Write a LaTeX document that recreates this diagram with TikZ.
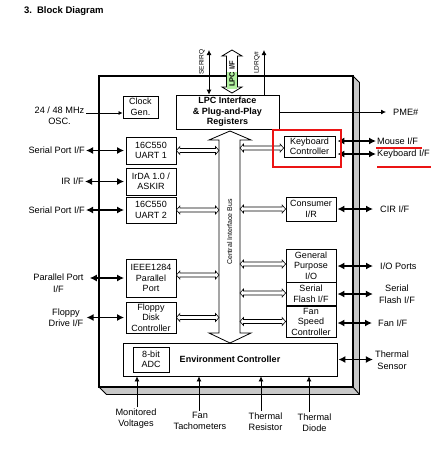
\documentclass[tikz,border=0pt]{standalone}
\usepackage{fontspec}
\setmainfont{Liberation Sans}
\usetikzlibrary{arrows.meta,calc}
\definecolor{shadowgray}{RGB}{200,200,200}
\definecolor{lpcgreen}{RGB}{178,240,160}
\definecolor{markred}{RGB}{235,20,20}
\newcommand\hollowh[2]{\draw[hol] let \p1=#1,\p2=#2 in
  (\x1,\y1) -- (\x1+3.5pt,\y1+4pt) -- (\x1+3.5pt,\y1+2pt) -- (\x2-3.5pt,\y1+2pt) -- (\x2-3.5pt,\y1+4pt) -- (\x2,\y1)
  -- (\x2-3.5pt,\y1-4pt) -- (\x2-3.5pt,\y1-2pt) -- (\x1+3.5pt,\y1-2pt) -- (\x1+3.5pt,\y1-4pt) -- cycle;}
\begin{document}
\begin{tikzpicture}[x=1pt,y=-1pt,
  box/.style={draw,fill=white,line width=0.8pt,align=center,inner sep=0pt,font=\fontsize{9}{10.5}\selectfont},
  lbl/.style={align=center,inner sep=1pt,font=\fontsize{9.2}{11.5}\selectfont},
  small/.style={rotate=90,inner sep=0pt,font=\fontsize{6.5}{7}\selectfont},
  thk/.style={line width=1.7pt,{Latex[length=7pt,width=7pt]}-{Latex[length=7pt,width=7pt]}},
  thn/.style={line width=0.8pt,-{Latex[length=5pt,width=5pt]}},
  thnd/.style={line width=0.8pt,{Latex[length=5pt,width=5pt]}-{Latex[length=5pt,width=5pt]}},
  hol/.style={draw,fill=white,line width=0.6pt},
  redmark/.style={draw=markred,line width=1.2pt},
]
\useasboundingbox (0,0) rectangle (436,450);

% title
\node[anchor=west,inner sep=0pt,font=\bfseries\fontsize{9.5}{11}\selectfont] (title) at (24,11) {3.\hspace{5pt}Block Diagram};

% chip outline with 3D shadow
\filldraw[fill=shadowgray,draw=black,line width=0.9pt] (353,76) -- (359.5,82.5) -- (359.5,394.5) -- (106.5,394.5) -- (99,387) -- (353,387) -- cycle;
\draw[line width=0.9pt] (353,387) -- (359.5,394.5);
\draw[line width=1.6pt,fill=white] (99,76) rectangle (353,387);

% central interface bus
\coordinate (busL) at (219,0);
\coordinate (busR) at (240,0);
\draw[hol,line width=0.8pt] (230,131) -- (251,140) -- (240,140) -- (240,333) -- (251,333) -- (230,343)
  -- (209,333) -- (219,333) -- (219,140) -- (209,140) -- cycle;
\node[rotate=90,inner sep=0pt,font=\fontsize{7}{8}\selectfont] (busl) at (229.5,232) {Central Interface Bus};

% blocks
\node[box,minimum width=35pt,minimum height=22pt] (clk) at (140.5,107) {Clock\\Gen.};
\node[box,minimum width=103pt,minimum height=34pt,font=\bfseries\fontsize{9}{10.5}\selectfont] (lpc) at (227.5,112) {LPC Interface\\\& Plug-and-Play\\Registers};
\node[box,minimum width=50pt,minimum height=27pt] (uart1) at (151,150.5) {16C550\\UART 1};
\node[box,minimum width=50pt,minimum height=27pt] (irda) at (151,181.5) {IrDA 1.0 /\\ASKIR};
\node[box,minimum width=50pt,minimum height=26pt] (uart2) at (151,210) {16C550\\UART 2};
\node[box,minimum width=50pt,minimum height=38pt] (par) at (151,278) {IEEE1284\\Parallel\\Port};
\node[box,minimum width=50pt,minimum height=31pt] (fdc) at (151,317.5) {Floppy\\Disk\\Controller};
\node[box,minimum width=51pt,minimum height=21pt] (kbc) at (309.5,146.5) {Keyboard\\Controller};
\node[box,minimum width=50pt,minimum height=24pt] (cir) at (311,209) {Consumer\\I/R};
\node[box,minimum width=50pt,minimum height=33pt] (gpio) at (311,265.5) {General\\Purpose\\I/O};
\node[box,minimum width=50pt,minimum height=23pt] (sflash) at (311,294) {Serial\\Flash I/F};
\node[box,minimum width=50pt,minimum height=31pt] (fan) at (311,321.5) {Fan\\Speed\\Controller};
\node[box,minimum width=214pt,minimum height=33pt,font=\bfseries\fontsize{9}{10.5}\selectfont] (env) at (230,359.5) {Environment Controller};
\node[box,minimum width=36pt,minimum height=25pt] (adc) at (151,359.5) {8-bit\\ADC};

% hollow bus links
\coordinate (parE) at ([yshift=3pt]par.east);
\coordinate (kbcW) at ([yshift=-1.5pt]kbc.west);
\coordinate (gpioW) at ([yshift=1.5pt]gpio.west);
\coordinate (sflW) at ([yshift=1pt]sflash.west);
\hollowh{(uart1.east)}{(busL |- uart1.east)}
\hollowh{(uart2.east)}{(busL |- uart2.east)}
\hollowh{(parE)}{(busL |- parE)}
\hollowh{(fdc.east)}{(busL |- fdc.east)}
\hollowh{(busR |- kbcW)}{(kbcW)}
\hollowh{(busR |- cir.west)}{(cir.west)}
\hollowh{(busR |- gpioW)}{(gpioW)}
\hollowh{(busR |- sflW)}{(sflW)}
\hollowh{(busR |- fan.west)}{(fan.west)}

% LPC I/F hollow arrow
\draw[hol,line width=0.8pt] (232,50) -- (242,56) -- (237.5,56) -- (237.5,87) -- (242,87) -- (232,93)
  -- (222,87) -- (226.5,87) -- (226.5,56) -- (222,56) -- cycle;
\fill[lpcgreen] (227,72) rectangle (237,89);
\node[rotate=90,inner sep=0pt,font=\bfseries\fontsize{7.5}{8}\selectfont] (lpcif) at (232,74) {LPC I/F};

% SERIRQ / LDRQ#
\coordinate (serTop) at (209,50);
\coordinate (ldrTop) at (264,50);
\draw[thnd] (serTop) -- (serTop |- lpc.north);
\draw[thn] (ldrTop |- lpc.north) -- (ldrTop);
\node[small] (serl) at (202,62) {SERIRQ};
\node[small] (ldrl) at (257,63) {LDRQ\#};

% oscillator
\node[lbl] (osc) at (59.5,115.5) {24 / 48 MHz\\OSC.};
\coordinate (oscA) at (86,113);
\draw[line width=0.7pt,-{Latex[length=4pt,width=4pt]}] (oscA) -- (clk.west |- oscA);

% PME#
\node[lbl,anchor=west] (pme) at (392,112) {PME\#};
\draw[thn,shorten >=6pt] (lpc.east) -- (pme.west);

% left interfaces
\node[lbl,anchor=east] (sp1) at (86,150.5) {Serial Port I/F};
\node[lbl,anchor=east] (ir) at (85,181.5) {IR I/F};
\node[lbl,anchor=east] (sp2) at (86,210) {Serial Port I/F};
\node[lbl] (parl) at (58.5,283) {Parallel Port\\I/F};
\node[lbl] (flp) at (66,317.5) {Floppy\\Drive I/F};
\draw[thk,shorten >=1.5pt] (sp1.east) -- (uart1.west);
\draw[thk,shorten >=1.5pt] (ir.east) -- (irda.west);
\draw[thk,shorten >=1.5pt] (sp2.east) -- (uart2.west);
\draw[thk,shorten <=5pt,shorten >=1.5pt] (parl.east |- par.west) -- (par.west);
\draw[thk,shorten <=2pt,shorten >=1.5pt] (flp.east |- fdc.west) -- (fdc.west);

% right interfaces
\node[lbl,anchor=west] (mouse) at (376,141) {Mouse I/F};
\node[lbl,anchor=west] (kbd) at (376,154) {Keyboard I/F};
\node[lbl,anchor=west] (cirl) at (379,209) {CIR I/F};
\node[lbl,anchor=west] (io) at (379,266) {I/O Ports};
\node[lbl] (sfl) at (397,294) {Serial\\Flash I/F};
\node[lbl,anchor=west] (fanl) at (377,323) {Fan I/F};
\node[lbl] (ts) at (392,360) {Thermal\\Sensor};
\draw[thk,shorten <=2pt] (kbc.east |- mouse.west) -- (mouse.west);
\draw[thk,shorten <=2pt] (kbc.east |- kbd.west) -- (kbd.west);
\draw[thk,shorten <=1pt,shorten >=6pt] (cir.east) -- (cirl.west);
\draw[thk,shorten <=1pt,shorten >=6pt] (gpio.east |- io.west) -- (io.west);
\draw[thk,shorten <=1pt,shorten >=5pt] (sflash.east) -- (sfl.west |- sflash.east);
\draw[thk,shorten <=1pt,shorten >=5pt] (fan.east |- fanl.west) -- (fanl.west);
\draw[thk,shorten <=1pt,shorten >=1pt] (env.east) -- (ts.west |- env.east);

% bottom inputs
\node[lbl] (mv) at (136,418.5) {Monitored\\Voltages};
\node[lbl] (ft) at (200,421) {Fan\\Tachometers};
\node[lbl] (tr) at (265.5,421.5) {Thermal\\Resistor};
\node[lbl] (td) at (314.5,422.5) {Thermal\\Diode};
\draw[thn] ([xshift=1pt]mv.north) -- ([xshift=1pt]mv.north |- env.south);
\draw[thn] ([xshift=-1pt]ft.north) -- ([xshift=-1pt]ft.north |- env.south);
\draw[thn] ([xshift=-4.5pt]tr.north) -- ([xshift=-4.5pt]tr.north |- env.south);
\draw[thn] ([xshift=-5.5pt]td.north) -- ([xshift=-5.5pt]td.north |- env.south);

% red highlight marks
\draw[redmark] (273,130) rectangle (341,167);
\draw[redmark] (376,148) -- (422,148);
\draw[redmark] (377,167) -- (431,167);
\end{tikzpicture}
\end{document}
